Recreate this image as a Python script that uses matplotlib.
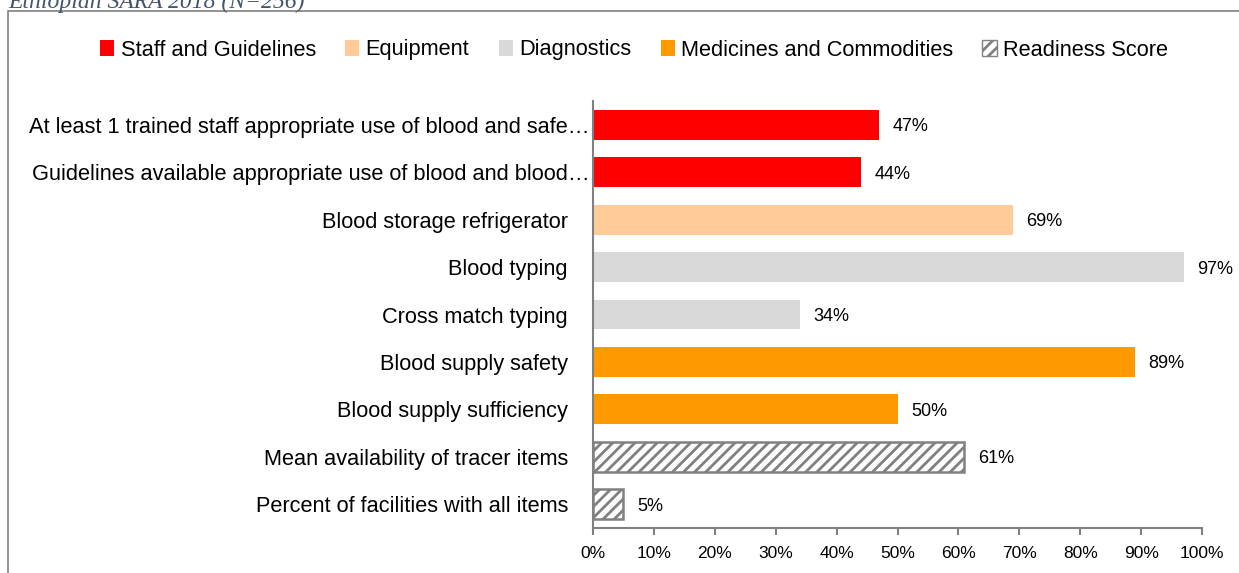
import matplotlib.pyplot as plt
from matplotlib.patches import Patch, Rectangle
from matplotlib.transforms import ScaledTranslation

categories = [
    "At least 1 trained staff appropriate use of blood and safe\u2026",
    "Guidelines available appropriate use of blood and blood\u2026",
    "Blood storage refrigerator",
    "Blood typing",
    "Cross match typing",
    "Blood supply safety",
    "Blood supply sufficiency",
    "Mean availability of tracer items",
    "Percent of facilities with all items",
]
values = [47, 44, 69, 97, 34, 89, 50, 61, 5]
groups = ["Staff and Guidelines", "Staff and Guidelines", "Equipment",
          "Diagnostics", "Diagnostics", "Medicines and Commodities",
          "Medicines and Commodities", "Readiness Score", "Readiness Score"]
group_names = ["Staff and Guidelines", "Equipment", "Diagnostics",
               "Medicines and Commodities", "Readiness Score"]
group_colors = {
    "Staff and Guidelines": "#FF0000",
    "Equipment": "#FFCC99",
    "Diagnostics": "#D9D9D9",
    "Medicines and Commodities": "#FF9900",
    "Readiness Score": "white",
}
x_ticks = [0, 10, 20, 30, 40, 50, 60, 70, 80, 90, 100]

plt.rcParams['font.family'] = ['Liberation Sans', 'DejaVu Sans']
plt.rcParams['hatch.color'] = '#808080'
plt.rcParams['hatch.linewidth'] = 2.0

GRAY = '#808080'
fig = plt.figure(figsize=(12.39, 5.73), dpi=100)
W, H = 1239, 573

# outer frame and clipped heading
fig.patches.append(Rectangle((8 / W, -0.1), 1.1, 1 - 11 / H + 0.1,
                             transform=fig.transFigure, fill=False,
                             edgecolor=GRAY, linewidth=1.2))
fig.text(8 / W, 1 - 8 / H, "Ethiopian SARA 2018 (N=256)", ha='left',
         va='baseline', fontsize=17, fontstyle='italic',
         family='Liberation Serif', color='#44546A')

ax = fig.add_axes([593 / W, 1 - 528 / H, (1202 - 593) / W, (528 - 101) / H])

ypos = list(range(len(categories)))
for y, v, g in zip(ypos, values, groups):
    if g == "Readiness Score":
        ax.barh(y, v, height=0.63, color='white', edgecolor=GRAY,
                hatch='///', linewidth=1.8)
    else:
        ax.barh(y, v, height=0.63, color=group_colors[g], linewidth=0)
    ax.text(v + 2.2, y, f"{v}%", va='center_baseline', ha='left', fontsize=13)

ax.set_ylim(len(categories) - 0.5, -0.5)
ax.set_xlim(0, 100)
ax.set_yticks(ypos)
ax.set_yticklabels([])
ax.tick_params(axis='y', length=0)

# category labels: right-aligned, long truncated labels run closer to the axis
ytrans = ax.get_yaxis_transform()
for y, lab in zip(ypos, categories):
    off = -3 if lab.endswith("\u2026") else -25
    tr = ytrans + ScaledTranslation(off / 100, 0, fig.dpi_scale_trans)
    ax.text(0, y, lab, transform=tr, ha='right', va='center_baseline',
            fontsize=15.7)

ax.set_xticks(x_ticks)
ax.set_xticklabels([f"{t}%" for t in x_ticks], fontsize=12.5)
ax.tick_params(axis='x', length=5, color=GRAY, width=1.5, pad=8)
for s in ['top', 'right']:
    ax.spines[s].set_visible(False)
for s in ['left', 'bottom']:
    ax.spines[s].set_color(GRAY)
    ax.spines[s].set_linewidth(1.5)

handles = []
for g in group_names:
    if g == "Readiness Score":
        handles.append(Patch(facecolor='white', edgecolor=GRAY,
                             hatch='///', label=g))
    else:
        handles.append(Patch(facecolor=group_colors[g], label=g))
fig.legend(handles=handles, loc='center', bbox_to_anchor=(634 / W, 1 - 50 / H),
           ncol=5, frameon=False, fontsize=15.7, handlelength=0.65,
           handleheight=0.7, handletextpad=0.28, columnspacing=1.35,
           borderpad=0, borderaxespad=0)

fig.savefig("out.png", dpi=100)
